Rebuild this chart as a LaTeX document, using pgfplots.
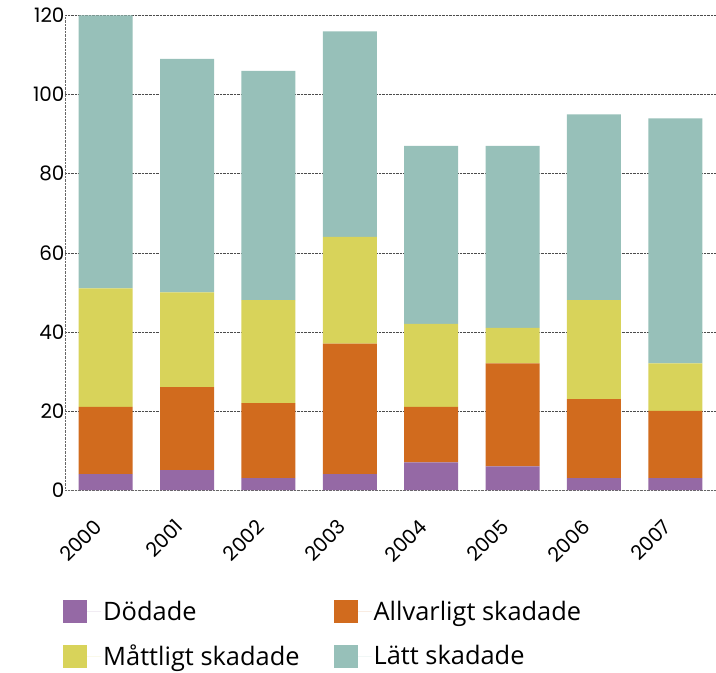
\documentclass[border=0pt]{standalone}
\usepackage{fontspec}
\setmainfont{Poppins}
\newfontfamily\legfont{Open Sans}
\usepackage{pgfplots}
\pgfplotsset{compat=1.18}

\definecolor{cDod}{RGB}{149,105,165}
\definecolor{cAllv}{RGB}{209,107,30}
\definecolor{cMatt}{RGB}{216,211,90}
\definecolor{cLatt}{RGB}{151,192,185}

\begin{document}
\begin{tikzpicture}
\begin{axis}[
  name=ax,
  scale only axis,
  width=651bp, height=474.5bp,
  xmin=-0.5, xmax=7.5, ymin=0, ymax=120,
  ybar stacked, bar width=54bp,
  axis x line*=bottom, axis y line*=left,
  axis line style={densely dotted, black!60, -},
  major tick length=0pt,
  xtick={0,...,7},
  xticklabels={2000,2001,2002,2003,2004,2005,2006,2007},
  xticklabel style={yshift=-23bp, xshift=-13bp, rotate=45, anchor=north east,
    font=\fontsize{20}{20}\selectfont},
  ytick={0,20,...,120},
  yticklabel style={xshift=3bp, font=\fontsize{20}{20}\selectfont},
  /pgf/number format/assume math mode=true,
  ymajorgrids, grid style={densely dotted, black!70},
  legend columns=2,
  legend cell align=left,
  legend style={draw=none, inner sep=0pt, at={(0,0)}, anchor=north west,
    xshift=-2bp, yshift=-109bp, row sep=19bp,
    font=\legfont\fontsize{25.5}{25.5}\selectfont,
    /tikz/every even column/.append style={column sep=32bp}},
  legend image code/.code={\fill[#1] (0bp,-11.5bp) rectangle (24bp,11.5bp);
    \path (24bp,0bp) -- (38bp,0bp);},
]
\addplot[fill=cDod, draw=none] coordinates {(0,4) (1,5) (2,3) (3,4) (4,7) (5,6) (6,3) (7,3)};
\addplot[fill=cAllv, draw=none] coordinates {(0,17) (1,21) (2,19) (3,33) (4,14) (5,26) (6,20) (7,17)};
\addplot[fill=cMatt, draw=none] coordinates {(0,30) (1,24) (2,26) (3,27) (4,21) (5,9) (6,25) (7,12)};
\addplot[fill=cLatt, draw=none] coordinates {(0,69) (1,59) (2,58) (3,52) (4,45) (5,46) (6,47) (7,62)};
\legend{Dödade, Allvarligt skadade, Måttligt skadade, Lätt skadade}
\end{axis}
\pgfresetboundingbox
\path (ax.south west) ++(-65bp,-183bp) rectangle ++(716bp,673bp);
\end{tikzpicture}
\end{document}
